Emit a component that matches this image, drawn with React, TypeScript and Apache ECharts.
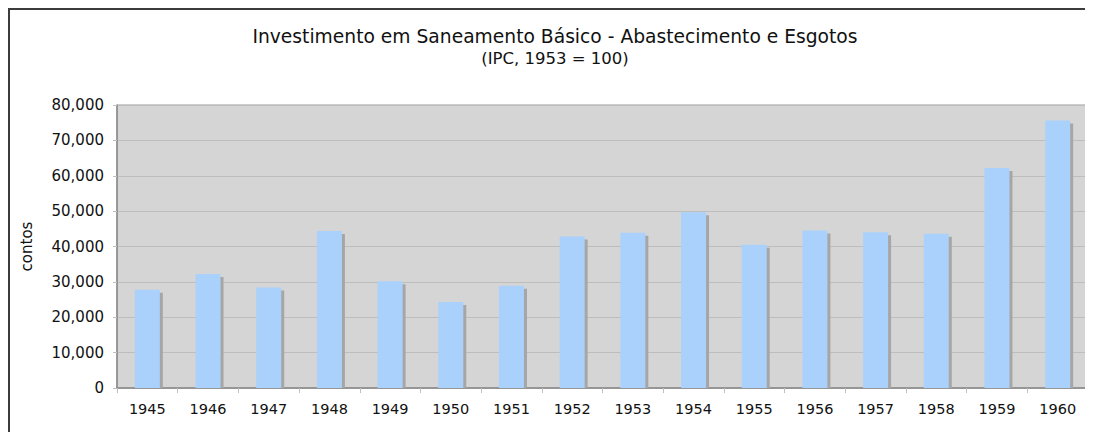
import React, { useEffect, useRef } from "react";
import * as echarts from "echarts";

const years = ["1945","1946","1947","1948","1949","1950","1951","1952","1953","1954","1955","1956","1957","1958","1959","1960"];
const investimento = [27800, 32200, 28400, 44400, 30200, 24300, 28900, 42800, 43900, 49700, 40500, 44500, 44000, 43600, 62200, 75600];
const yTicks = { min: 0, max: 80000, interval: 10000 };
const titleText = "Investimento em Saneamento Básico - Abastecimento e Esgotos";
const subtitleText = "(IPC, 1953 = 100)";
const yAxisName = "contos";

export default function App() {
  const ref = useRef<HTMLDivElement>(null);
  useEffect(() => {
    document.documentElement.style.overflow = "hidden";
    document.body.style.overflow = "hidden";
    if (!ref.current) return;
    const chart = echarts.init(ref.current, undefined, { renderer: "svg" });
    const font = "'DejaVu Sans', Verdana, sans-serif";
    const BAR_W = 25;
    chart.setOption({
      animation: false,
      textStyle: { fontFamily: font },
      graphic: [
        { type: "text", x: 545, y: 26, style: { text: titleText, font: `18.7px ${font}`, fill: "#111", textAlign: "center", textVerticalAlign: "middle" } },
        { type: "text", x: 545, y: 48.5, style: { text: subtitleText, font: `16.5px ${font}`, fill: "#111", textAlign: "center", textVerticalAlign: "middle" } },
      ],
      grid: { left: 107, right: 5, top: 95, bottom: 44, show: true, backgroundColor: "#d5d5d5", borderColor: "#9a9a9a", borderWidth: 1 },
      xAxis: {
        type: "category",
        data: years,
        axisLine: { lineStyle: { color: "#8a8a8a", width: 1.5 } },
        axisTick: { show: true, length: 5, lineStyle: { color: "#c0c0c0" } },
        axisLabel: { color: "#111", fontSize: 14.5, margin: 13, fontFamily: font },
      },
      yAxis: {
        type: "value",
        min: yTicks.min,
        max: yTicks.max,
        interval: yTicks.interval,
        name: yAxisName,
        nameLocation: "middle",
        nameGap: 83,
        nameRotate: 90,
        nameTextStyle: { color: "#111", fontSize: 15, fontFamily: font },
        axisLine: { show: true, lineStyle: { color: "#8a8a8a", width: 1.5 } },
        axisTick: { show: true, length: 4, lineStyle: { color: "#c0c0c0" } },
        axisLabel: { color: "#111", fontSize: 15, margin: 13, fontFamily: font, formatter: (v: number) => v.toLocaleString("en-US") },
        splitLine: { lineStyle: { color: "#bdbdbd", width: 1 } },
      },
      series: [
        {
          type: "custom",
          data: investimento.map((v, i) => [i, v]),
          z: 1,
          silent: true,
          renderItem: (params: any, api: any) => {
            const top = api.coord([api.value(0), api.value(1)]);
            const base = api.coord([api.value(0), 0]);
            return {
              type: "rect",
              shape: { x: top[0] - BAR_W / 2 + 3, y: top[1] + 3, width: BAR_W, height: Math.max(0, base[1] - top[1] - 3) },
              style: { fill: "#a6a6a6" },
            };
          },
        },
        {
          type: "bar",
          data: investimento,
          barWidth: BAR_W,
          z: 2,
          itemStyle: { color: "#a9d1fb" },
        },
      ],
    });
    return () => chart.dispose();
  }, []);
  return (
    <div style={{ width: 1085, height: 424, borderTop: "2px solid #3c3c3c", borderLeft: "2px solid #3c3c3c", boxSizing: "border-box", background: "#fff" }}>
      <div ref={ref} style={{ width: 1083, height: 422 }} />
    </div>
  );
}
